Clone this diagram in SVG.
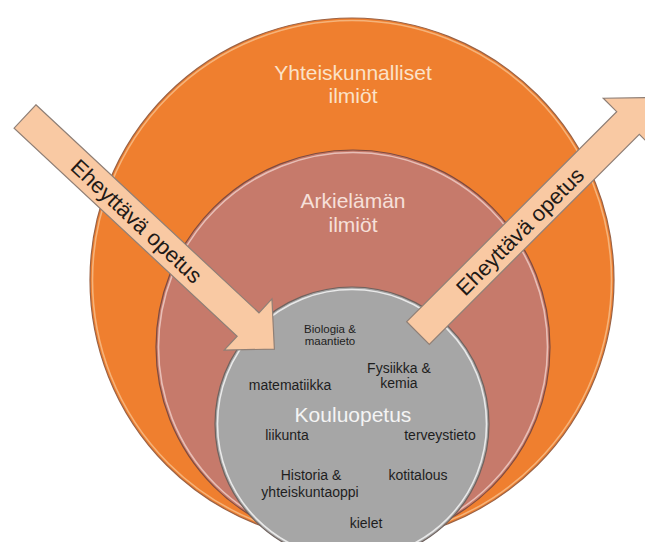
<svg xmlns="http://www.w3.org/2000/svg" width="645" height="542" viewBox="0 0 645 542">
  <defs>
    <style>
      text { font-family: "Liberation Sans", Arial, sans-serif; }
      .title { font-size: 21px; text-anchor: middle; }
      .subject { font-size: 14px; fill: #1e1e1e; text-anchor: middle; }
      .small { font-size: 11.5px; fill: #1e1e1e; text-anchor: middle; }
      .arrow-body { fill: #f9c9a3; stroke: #8f7f76; stroke-width: 1.2; stroke-linejoin: miter; }
      .arrow-label { font-size: 22px; fill: #1f1a17; text-anchor: middle; }
      .rim { fill: none; stroke-width: 1.6; }
    </style>
  </defs>

  <rect x="0" y="0" width="645" height="542" fill="#ffffff"/>

  <!-- Outer ring: societal phenomena -->
  <g id="node-yhteiskunnalliset">
    <circle cx="352" cy="280" r="262" fill="#ef7f2f" stroke="#9b6244" stroke-width="1.2"/>
    <circle class="rim" cx="352" cy="280" r="259.5" stroke="#f8c99a" stroke-opacity="0.7"/>
    <text class="title" x="353" y="80" fill="#fbe2c8">Yhteiskunnalliset</text>
    <text class="title" x="353" y="103" fill="#fbe2c8">ilmiöt</text>
  </g>

  <!-- Middle ring: everyday phenomena -->
  <g id="node-arkielaman">
    <circle cx="353" cy="347" r="197" fill="#c67a6b" stroke="#7e4b3f" stroke-width="1.2"/>
    <circle class="rim" cx="353" cy="347" r="194.5" stroke="#f3d6cf" stroke-opacity="0.75"/>
    <text class="title" x="353" y="208" fill="#f6e0da">Arkielämän</text>
    <text class="title" x="353" y="232" fill="#f6e0da">ilmiöt</text>
  </g>

  <!-- Inner circle: school subjects -->
  <g id="node-kouluopetus">
    <circle cx="352" cy="424" r="137" fill="#a6a6a6" stroke="#6f625e" stroke-width="1.2"/>
    <circle class="rim" cx="352" cy="424" r="134.5" stroke="#f4f4f4" stroke-opacity="0.85"/>
    <text class="title" x="353" y="422" fill="#f4f4f4">Kouluopetus</text>
    <text class="small" x="330" y="333">Biologia &amp;</text>
    <text class="small" x="330" y="345">maantieto</text>
    <text class="subject" x="399" y="373">Fysiikka &amp;</text>
    <text class="subject" x="399" y="388">kemia</text>
    <text class="subject" x="290" y="390">matematiikka</text>
    <text class="subject" x="287" y="440">liikunta</text>
    <text class="subject" x="440" y="440">terveystieto</text>
    <text class="subject" x="311" y="480">Historia &amp;</text>
    <text class="subject" x="310" y="497">yhteiskuntaoppi</text>
    <text class="subject" x="418" y="480">kotitalous</text>
    <text class="subject" x="366" y="528">kielet</text>
  </g>

  <!-- Block arrows: integrating teaching in and out -->
  <g id="connectors">
    <g id="arrow-in" transform="translate(25 116.5) rotate(43)">
      <polygon class="arrow-body" points="0,-16 305,-16 305,-35 341,0 305,35 305,16 0,16"/>
      <text class="arrow-label" x="153" y="8">Eheyttävä opetus</text>
    </g>
    <g id="arrow-out" transform="translate(418 333) rotate(-45)">
      <polygon class="arrow-body" points="0,-16 297,-16 297,-35 333,0 297,35 297,16 0,16"/>
      <text class="arrow-label" x="144" y="8">Eheyttävä opetus</text>
    </g>
  </g>
</svg>
